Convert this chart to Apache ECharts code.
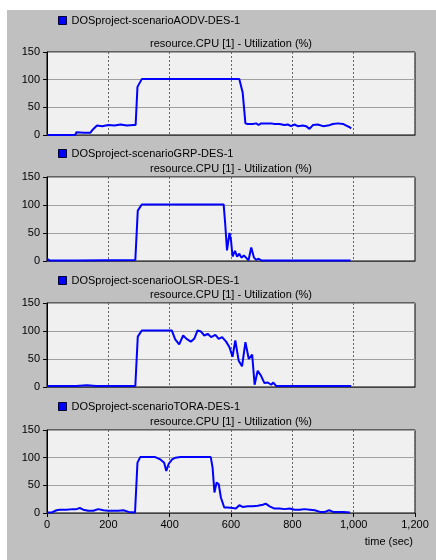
<!DOCTYPE html>
<html>
<head>
<meta charset="utf-8">
<script src="https://cdn.jsdelivr.net/npm/echarts@6/dist/echarts.min.js"></script>
<style>
  html, body { margin: 0; padding: 0; background: #fff; }
  #wrap { position: relative; width: 436px; height: 560px; }
  #bg { position: absolute; left: 7px; top: 10px; right: 0; bottom: 0; background: #c0c0c0; }
  #main { position: absolute; left: 0; top: 0; width: 436px; height: 560px; }
</style>
</head>
<body>
<div id="wrap"><div id="bg"></div><div id="main"></div></div>
<script>
// scenario names (legend text)
const scenarios = [
  'DOSproject-scenarioAODV-DES-1',
  'DOSproject-scenarioGRP-DES-1',
  'DOSproject-scenarioOLSR-DES-1',
  'DOSproject-scenarioTORA-DES-1'
];
const panelTitle = 'resource.CPU [1] - Utilization (%)';
const xTicks = [0, 200, 400, 600, 800, 1000, 1200];
const yTicks = [0, 50, 100, 150];

// time (sec) / CPU utilization (%)
const timeAODV = [0, 92, 96, 120, 141, 148, 163, 180, 200, 220, 240, 260, 282, 289, 295, 309, 400, 500, 627, 638, 647, 654, 671, 682, 690, 698, 714, 731, 742, 758, 774, 785, 796, 807, 818, 834, 845, 856, 867, 883, 900, 916, 932, 949, 965, 976, 987, 992];
const cpuAODV  = [0, 0, 5, 4, 4, 9, 17, 16, 18, 17, 19, 17, 18, 18, 87, 101, 101, 101, 101, 77, 21, 20, 20, 21, 18, 21, 21, 21, 20, 20, 18, 19, 16, 19, 16, 17, 16, 11, 18, 19, 16, 17, 20, 21, 20, 17, 14, 12];

const timeGRP = [0, 8, 95, 100, 288, 296, 309, 450, 576, 581, 587, 595, 600, 605, 613, 620, 627, 634, 642, 649, 657, 666, 675, 682, 690, 699, 850, 990];
const cpuGRP  = [4, 1, 1, 2, 2, 90, 101, 101, 101, 67, 19, 50, 37, 8, 18, 8, 13, 6, 10, 6, 1, 24, 6, 2, 4, 1, 1, 1];

const timeOLSR = [0, 95, 130, 160, 288, 296, 309, 407, 418, 431, 444, 455, 469, 480, 491, 502, 513, 524, 535, 549, 560, 571, 584, 595, 605, 614, 625, 636, 647, 658, 669, 677, 687, 698, 709, 720, 731, 738, 747, 992];
const cpuOLSR  = [2, 2, 3, 2, 2, 90, 101, 101, 85, 76, 92, 86, 81, 86, 101, 99, 92, 95, 89, 93, 86, 89, 81, 71, 54, 83, 47, 37, 80, 50, 58, 4, 29, 20, 7, 8, 4, 8, 2, 2];

const timeTORA = [0, 16, 31, 42, 63, 85, 96, 107, 118, 134, 151, 167, 184, 200, 216, 233, 249, 266, 287, 295, 304, 315, 353, 369, 382, 389, 397, 408, 419, 435, 534, 540, 546, 553, 560, 567, 578, 589, 605, 616, 627, 638, 655, 671, 687, 704, 713, 726, 742, 758, 775, 791, 808, 824, 840, 857, 873, 890, 906, 920, 933, 950, 966, 988];
const cpuTORA  = [1, 1, 5, 6, 6, 7, 7, 9, 6, 4, 4, 7, 5, 4, 4, 4, 5, 2, 1, 91, 101, 101, 101, 97, 91, 76, 89, 97, 100, 101, 101, 82, 37, 55, 52, 28, 10, 10, 9, 8, 14, 11, 12, 12, 13, 15, 17, 12, 8, 8, 7, 8, 6, 6, 7, 6, 5, 2, 2, 5, 2, 2, 2, 1];

const times = [timeAODV, timeGRP, timeOLSR, timeTORA];
const values = [cpuAODV, cpuGRP, cpuOLSR, cpuTORA];

const FONT = '"Liberation Sans", Arial, sans-serif';
const gridTops = [52, 177, 303, 430];
const gridHeights = [83, 84, 84, 83];
const legendMid = [22, 155, 282, 408];
const titleMid = [44, 169, 295, 422];

const chart = echarts.init(document.getElementById('main'));

const grids = [], xAxes = [], yAxes = [], series = [], legends = [], texts = [];
scenarios.forEach((name, i) => {
  const last = i === scenarios.length - 1;
  grids.push({
    left: 47, right: 21, top: gridTops[i], height: gridHeights[i],
    show: true, backgroundColor: '#f0f0f0', borderColor: '#000', borderWidth: 1
  });
  xAxes.push({
    gridIndex: i, type: 'value', min: 0, max: xTicks[xTicks.length - 1], interval: 200,
    axisLine: { show: true, lineStyle: { color: '#444', width: 1 } },
    axisTick: { show: last, length: 4, lineStyle: { color: '#000' } },
    axisLabel: {
      show: last, color: '#000', fontSize: 11, fontFamily: FONT, margin: 6,
      formatter: v => v.toLocaleString('en-US')
    },
    splitLine: { show: true, lineStyle: { color: '#666', type: [2, 2], width: 1 } }
  });
  yAxes.push({
    gridIndex: i, type: 'value', min: 0, max: yTicks[yTicks.length - 1], interval: 50,
    axisLine: { show: true, lineStyle: { color: '#000', width: 1 } },
    axisTick: { show: true, length: 4, lineStyle: { color: '#000' } },
    axisLabel: { color: '#000', fontSize: 11, fontFamily: FONT, margin: 7 },
    splitLine: { show: true, lineStyle: { color: '#a0a0a0', width: 1 } }
  });
  series.push({
    name: name, type: 'line', xAxisIndex: i, yAxisIndex: i,
    data: times[i].map((t, k) => [t, values[i][k]]),
    showSymbol: false, symbol: 'none',
    color: '#0000ff',
    lineStyle: { color: '#0000ff', width: 2 }
  });
  legends.push({
    data: [name], left: 58, top: legendMid[i] - 7, padding: 0,
    icon: 'rect', itemWidth: 8, itemHeight: 8, selectedMode: false,
    itemStyle: { color: '#0000ff', borderColor: '#000033', borderWidth: 1 },
    textStyle: { color: '#000', fontSize: 11, fontFamily: FONT }
  });
  texts.push({
    type: 'text', x: 231, y: titleMid[i],
    style: { text: panelTitle, align: 'center', verticalAlign: 'middle', fill: '#000', font: '11px ' + FONT }
  });
});
texts.push({
  type: 'text', x: 413, y: 542,
  style: { text: 'time (sec)', align: 'right', verticalAlign: 'middle', fill: '#000', font: '11px ' + FONT }
});

chart.setOption({
  animation: false,
  backgroundColor: 'transparent',
  grid: grids,
  xAxis: xAxes,
  yAxis: yAxes,
  legend: legends,
  series: series,
  graphic: texts
});
</script>
</body>
</html>
